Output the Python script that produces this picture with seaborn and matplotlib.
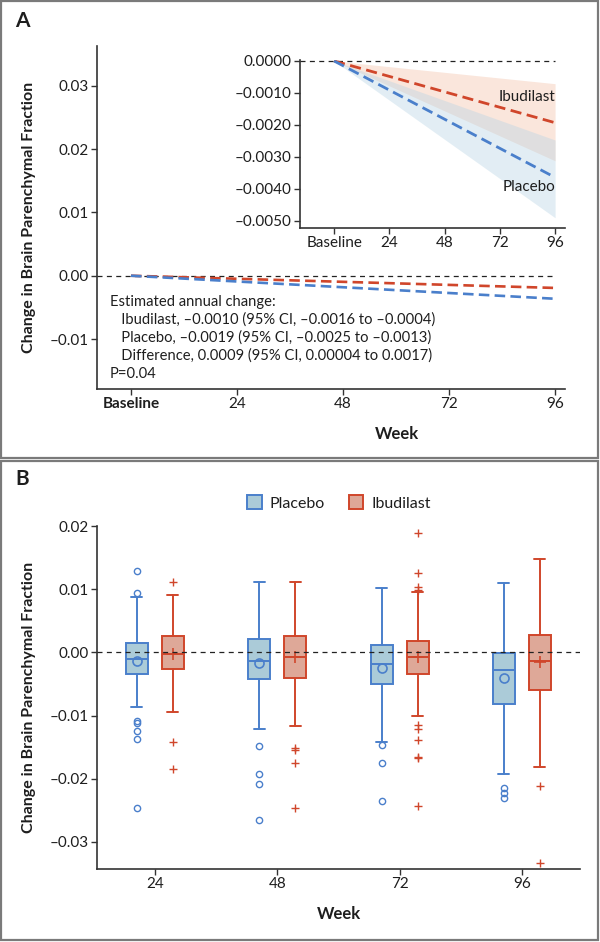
import matplotlib
matplotlib.use("Agg")
import matplotlib.pyplot as plt
from matplotlib.patches import Patch, Rectangle
import seaborn as sns
import pandas as pd

# ---- Panel A: estimated change (linear fit) with 95% CI ----
fit_weeks = [0, 96]
ibu_fit = [0.0, -0.00193]
ibu_ci_lo = [0.0, -0.00312]
ibu_ci_hi = [0.0, -0.00071]
pla_fit = [0.0, -0.00364]
pla_ci_lo = [0.0, -0.00490]
pla_ci_hi = [0.0, -0.00247]

a_xticks = [0, 24, 48, 72, 96]
a_xlabels = ["Baseline", "24", "48", "72", "96"]
a_yticks = [0.03, 0.02, 0.01, 0.00, -0.01]
inset_yticks = [0.0, -0.001, -0.002, -0.003, -0.004, -0.005]

annot_lines = ["Estimated annual change:",
               "   Ibudilast, \u20130.0010 (95% CI, \u20130.0016 to \u20130.0004)",
               "   Placebo, \u20130.0019 (95% CI, \u20130.0025 to \u20130.0013)",
               "   Difference, 0.0009 (95% CI, 0.00004 to 0.0017)",
               "P=0.04"]

# ---- Panel B: box plots by week ----
b_weeks = ["24", "48", "72", "96"]
b_yticks = [0.02, 0.01, 0.00, -0.01, -0.02, -0.03]

pla_whislo = [-0.0086, -0.0121, -0.0142, -0.0192]
pla_q1 = [-0.0035, -0.0042, -0.0050, -0.0081]
pla_med = [-0.0011, -0.0014, -0.0018, -0.0028]
pla_q3 = [0.0014, 0.0021, 0.0011, -0.0001]
pla_whishi = [0.0087, 0.0112, 0.0102, 0.0110]
pla_mean = [-0.0014, -0.0017, -0.0025, -0.0041]
pla_out = [[0.0129, 0.0094, -0.0109, -0.0112, -0.0124, -0.0137, -0.0246],
           [-0.0149, -0.0192, -0.0209, -0.0266],
           [-0.0146, -0.0175, -0.0236],
           [-0.0215, -0.0223, -0.0231]]

ibu_whislo = [-0.0094, -0.0117, -0.0101, -0.0182]
ibu_q1 = [-0.0027, -0.0040, -0.0035, -0.0060]
ibu_med = [-0.0002, -0.0008, -0.0007, -0.0014]
ibu_q3 = [0.0026, 0.0026, 0.0018, 0.0027]
ibu_whishi = [0.0090, 0.0112, 0.0095, 0.0147]
ibu_mean = [-0.0003, -0.0007, -0.0008, -0.0016]
ibu_out = [[0.0111, -0.0142, -0.0184],
           [-0.0152, -0.0155, -0.0175, -0.0246],
           [0.0189, 0.0126, 0.0103, 0.0099, -0.0115, -0.0122, -0.0139,
            -0.0165, -0.0168, -0.0243],
           [-0.0212, -0.0334]]

RED = "#d0462b"
BLUE = "#4a7fcb"
RED_FILL = "#dea898"
BLUE_FILL = "#abcbd8"
TXT = "#1e1e1e"

sns.set_theme(style="ticks")
plt.rcParams["font.family"] = ["Lato", "DejaVu Sans"]
plt.rcParams["text.color"] = TXT
plt.rcParams["axes.labelcolor"] = TXT

W, H = 600, 942
fig = plt.figure(figsize=(W / 100, H / 100), dpi=100)


def box(l, t, r, b):
    return [l / W, 1 - b / H, (r - l) / W, (b - t) / H]


def dash_fmt(v, nd):
    s = f"{v:.{nd}f}"
    if s.startswith("-"):
        s = "\u2013" + s[1:]
    return s


def style_axes(ax, fs=11):
    sns.despine(ax=ax)
    for sp in ["left", "bottom"]:
        ax.spines[sp].set_linewidth(1.2)
        ax.spines[sp].set_color("#333333")
    ax.tick_params(direction="out", length=4, width=1, labelsize=fs, pad=2,
                   colors="#333333", labelcolor=TXT)


def draw_fit(ax, lw, bands):
    if bands:
        ax.fill_between(fit_weeks, ibu_ci_lo, ibu_ci_hi, color="#f0b496",
                        alpha=0.33, lw=0)
        ax.fill_between(fit_weeks, pla_ci_lo, pla_ci_hi, color="#b8d4e4",
                        alpha=0.4, lw=0)
    ax.plot([ax.get_xlim()[0], 96], [0, 0], color="#222222", lw=0.9,
            linestyle=(0, (4, 3.5)), zorder=1)
    df = pd.DataFrame({"week": fit_weeks * 2, "value": ibu_fit + pla_fit,
                       "arm": ["Ibudilast"] * 2 + ["Placebo"] * 2})
    sns.lineplot(data=df[df.arm == "Ibudilast"], x="week", y="value", color=RED,
                 lw=lw, linestyle=(0, (4, 2)), ax=ax, zorder=3)
    sns.lineplot(data=df[df.arm == "Placebo"], x="week", y="value", color=BLUE,
                 lw=lw, linestyle=(0, (4, 2)), ax=ax, zorder=3)
    ax.set_xlabel("")
    ax.set_ylabel("")


# ---------------- Panel A main ----------------
axA = fig.add_axes(box(97, 46, 565, 389))
axA.set_xlim(-7.7, 98.3)
axA.set_ylim(-0.0179, 0.0363)
draw_fit(axA, 1.9, bands=False)
style_axes(axA)
axA.set_xticks(a_xticks)
axA.set_xticklabels(a_xlabels)
axA.get_xticklabels()[0].set_fontweight("bold")
axA.set_yticks(a_yticks)
axA.set_yticklabels([dash_fmt(v, 2) for v in a_yticks])

for i, line in enumerate(annot_lines):
    fig.text(110 / W, 1 - (302 + 18 * i) / H, line, fontsize=10.6, va="center",
             ha="left")

# ---------------- Panel A inset ----------------
axI = fig.add_axes(box(300, 60, 565, 228))
axI.set_xlim(-14.8, 100.3)
axI.set_ylim(-0.00522, 0.00003)
draw_fit(axI, 2.0, bands=True)
style_axes(axI)
axI.set_xticks(a_xticks)
axI.set_xticklabels(a_xlabels)
axI.set_yticks(inset_yticks)
axI.set_yticklabels([dash_fmt(v, 4) for v in inset_yticks])
axI.text(96, -0.00112, "Ibudilast", ha="right", va="center", fontsize=11)
axI.text(96, -0.00395, "Placebo", ha="right", va="center", fontsize=11)

fig.text(15 / W, 1 - 21 / H, "A", fontsize=15, fontweight="bold", va="center")
fig.text(397 / W, 1 - 434 / H, "Week", fontsize=12, fontweight="bold",
         ha="center", va="center")
fig.text(29 / W, 1 - 217 / H, "Change in Brain Parenchymal Fraction", fontsize=11.5,
         fontweight="bold", rotation=90, ha="center", va="center")

# ---------------- Panel B ----------------
axB = fig.add_axes(box(97, 526, 580, 869))
axB.set_xlim(-0.474, 3.475)
axB.set_ylim(-0.0343, 0.02)
off, bw = 0.147, 0.18


def stats(lo, q1, med, q3, hi, mean, out):
    return [dict(whislo=lo[i], q1=q1[i], med=med[i], q3=q3[i], whishi=hi[i],
                 mean=mean[i], fliers=out[i]) for i in range(len(lo))]


for st, pos, fc, ec, mk, mms, fms in [
        (stats(pla_whislo, pla_q1, pla_med, pla_q3, pla_whishi, pla_mean, pla_out),
         [i - off for i in range(4)], BLUE_FILL, BLUE, "o", 6.5, 4.5),
        (stats(ibu_whislo, ibu_q1, ibu_med, ibu_q3, ibu_whishi, ibu_mean, ibu_out),
         [i + off for i in range(4)], RED_FILL, RED, "+", 8, 6)]:
    axB.bxp(st, positions=pos, widths=bw, capwidths=bw / 2, patch_artist=True,
            showmeans=True, manage_ticks=False,
            boxprops=dict(facecolor=fc, edgecolor=ec, lw=1.4),
            whiskerprops=dict(color=ec, lw=1.4),
            capprops=dict(color=ec, lw=1.4),
            medianprops=dict(color=ec, lw=1.4),
            meanprops=dict(marker=mk, mfc="none", mec=ec, ms=mms, mew=1.2),
            flierprops=dict(marker=mk, mfc="none", mec=ec, ms=fms, mew=1.0))

axB.axhline(0, color="#222222", lw=0.9, linestyle=(0, (4, 3.5)), zorder=4)
style_axes(axB)
axB.set_xticks(range(4))
axB.set_xticklabels(b_weeks)
axB.set_yticks(b_yticks)
axB.set_yticklabels([dash_fmt(v, 2) for v in b_yticks])

handles = [Patch(facecolor=BLUE_FILL, edgecolor=BLUE, lw=1.4, label="Placebo"),
           Patch(facecolor=RED_FILL, edgecolor=RED, lw=1.4, label="Ibudilast")]
fig.legend(handles=handles, loc="center", bbox_to_anchor=(339 / W, 1 - 503 / H),
           ncol=2, frameon=False, fontsize=11.5, handlelength=0.9,
           handleheight=0.9, handletextpad=0.5, columnspacing=1.5)

fig.text(15 / W, 1 - 479 / H, "B", fontsize=15, fontweight="bold", va="center")
fig.text(339 / W, 1 - 914 / H, "Week", fontsize=12, fontweight="bold",
         ha="center", va="center")
fig.text(29 / W, 1 - 697 / H, "Change in Brain Parenchymal Fraction", fontsize=11.5,
         fontweight="bold", rotation=90, ha="center", va="center")

# panel frames
for t, b in [(1, 458), (461, 940)]:
    fig.add_artist(Rectangle((1 / W, 1 - b / H), 597 / W, (b - t) / H,
                             transform=fig.transFigure, fill=False,
                             edgecolor="#7a7a7a", lw=1.6))

fig.savefig("out.png", dpi=100)
